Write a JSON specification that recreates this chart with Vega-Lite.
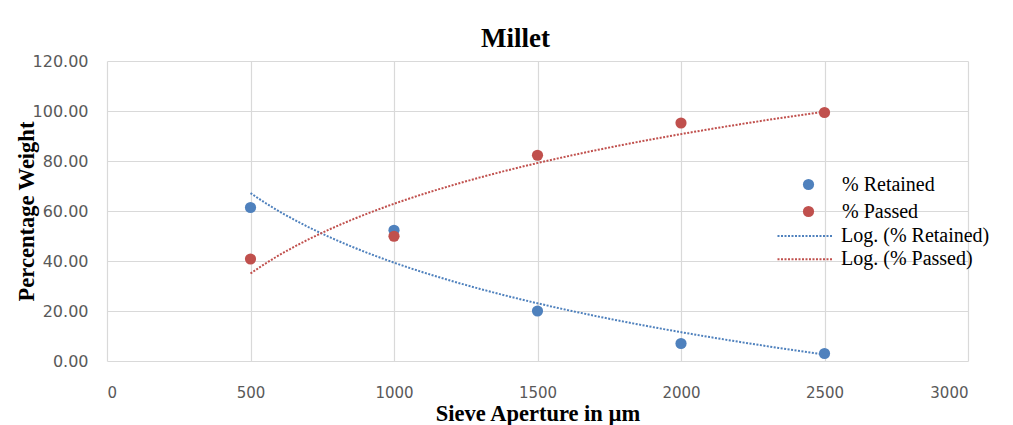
{
  "$schema": "https://vega.github.io/schema/vega-lite/v6.json",
  "width": 861,
  "height": 300,
  "autosize": {"type": "none"},
  "padding": {"left": 107, "top": 61, "right": 45, "bottom": 64},
  "background": "white",
  "title": {
    "text": "Millet",
    "font": "Liberation Serif",
    "fontSize": 27,
    "fontWeight": "bold",
    "color": "#000000",
    "anchor": "middle",
    "frame": "group",
    "dx": -22,
    "dy": 35,
    "offset": 14,
    "baseline": "alphabetic"
  },
  "config": {
    "view": {"stroke": null},
    "axis": {
      "grid": true,
      "gridColor": "#D9D9D9",
      "gridWidth": 1.2,
      "domain": false,
      "ticks": false,
      "labelFont": "DejaVu Sans",
      "labelFontSize": 15,
      "labelColor": "#595959",
      "titleFont": "Liberation Serif",
      "titleFontSize": 22.5,
      "titleFontWeight": "bold",
      "titleColor": "#000000"
    },
    "legend": {
      "orient": "none",
      "title": null,
      "padding": 0,
      "labelFont": "Liberation Serif",
      "labelFontSize": 20,
      "labelColor": "#000000"
    }
  },
  "data": {
    "values": [
      {"aperture": 500, "weight": 61.4, "series": "% Retained", "trend": "Log. (% Retained)"},
      {"aperture": 1000, "weight": 52.3, "series": "% Retained", "trend": "Log. (% Retained)"},
      {"aperture": 1500, "weight": 20.0, "series": "% Retained", "trend": "Log. (% Retained)"},
      {"aperture": 2000, "weight": 7.0, "series": "% Retained", "trend": "Log. (% Retained)"},
      {"aperture": 2500, "weight": 3.0, "series": "% Retained", "trend": "Log. (% Retained)"},
      {"aperture": 500, "weight": 40.8, "series": "% Passed", "trend": "Log. (% Passed)"},
      {"aperture": 1000, "weight": 49.9, "series": "% Passed", "trend": "Log. (% Passed)"},
      {"aperture": 1500, "weight": 82.3, "series": "% Passed", "trend": "Log. (% Passed)"},
      {"aperture": 2000, "weight": 95.2, "series": "% Passed", "trend": "Log. (% Passed)"},
      {"aperture": 2500, "weight": 99.4, "series": "% Passed", "trend": "Log. (% Passed)"}
    ]
  },
  "layer": [
    {
      "transform": [
        {"filter": "datum.series === '% Retained'"},
        {"regression": "weight", "on": "aperture", "method": "log", "groupby": ["trend"]}
      ],
      "mark": {"type": "line", "strokeDash": [2, 1.5], "strokeWidth": 2},
      "encoding": {
        "x": {"field": "aperture", "type": "quantitative"},
        "y": {"field": "weight", "type": "quantitative"},
        "stroke": {
          "field": "trend",
          "type": "nominal",
          "scale": {"domain": ["Log. (% Retained)"], "range": ["#4F81BD"]},
          "legend": {
            "legendX": 669.5,
            "legendY": 146.5,
            "symbolType": "stroke",
            "symbolSize": 3025,
            "symbolStrokeWidth": 2,
            "symbolDash": [2, 1.5],
            "labelOffset": 7.5
          }
        }
      }
    },
    {
      "transform": [
        {"filter": "datum.series === '% Passed'"},
        {"regression": "weight", "on": "aperture", "method": "log", "groupby": ["trend"]}
      ],
      "mark": {"type": "line", "strokeDash": [2, 1.5], "strokeWidth": 2},
      "encoding": {
        "x": {"field": "aperture", "type": "quantitative"},
        "y": {"field": "weight", "type": "quantitative"},
        "color": {
          "field": "trend",
          "type": "nominal",
          "scale": {"domain": ["Log. (% Passed)"], "range": ["#C0504D"]},
          "legend": {
            "legendX": 669.5,
            "legendY": 169.8,
            "symbolType": "stroke",
            "symbolSize": 3025,
            "symbolStrokeWidth": 2,
            "symbolDash": [2, 1.5],
            "labelOffset": 7.5
          }
        }
      }
    },
    {
      "mark": {"type": "point", "filled": true, "shape": "circle", "size": 125, "opacity": 1},
      "encoding": {
        "x": {
          "field": "aperture",
          "type": "quantitative",
          "scale": {"domain": [0, 3000], "nice": false},
          "axis": {
            "values": [0, 500, 1000, 1500, 2000, 2500, 3000],
            "format": "d",
            "labelPadding": 24,
            "title": "Sieve Aperture in µm",
            "titleY": 59,
            "titleBaseline": "alphabetic"
          }
        },
        "y": {
          "field": "weight",
          "type": "quantitative",
          "scale": {"domain": [0, 120], "nice": false},
          "axis": {
            "values": [0, 20, 40, 60, 80, 100, 120],
            "format": ".2f",
            "labelFontSize": 16,
            "labelPadding": 19,
            "title": "Percentage Weight",
            "titleX": -81,
            "titleY": 150,
            "titleAngle": 270,
            "titleAlign": "center",
            "titleBaseline": "middle"
          }
        },
        "fill": {
          "field": "series",
          "type": "nominal",
          "scale": {
            "domain": ["% Retained", "% Passed"],
            "range": ["#4F81BD", "#C0504D"]
          },
          "legend": {
            "legendX": 691.5,
            "legendY": 113.5,
            "symbolType": "circle",
            "symbolSize": 125,
            "labelOffset": 23.5,
            "rowPadding": 7
          }
        }
      }
    }
  ]
}
